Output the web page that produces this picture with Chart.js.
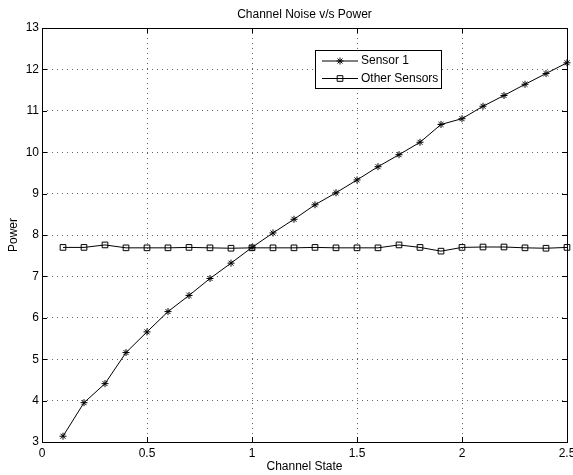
<!DOCTYPE html>
<html>
<head>
<meta charset="utf-8">
<script src="https://cdn.jsdelivr.net/npm/chart.js@4/dist/chart.umd.min.js"></script>
<style>html,body{margin:0;padding:0;background:#fff}</style>
</head>
<body>
<canvas id="chart" width="573" height="475"></canvas>
<script>
const channelState = [0.1, 0.2, 0.3, 0.4, 0.5, 0.6, 0.7, 0.8, 0.9, 1.0, 1.1, 1.2, 1.3,
  1.4, 1.5, 1.6, 1.7, 1.8, 1.9, 2.0, 2.1, 2.2, 2.3, 2.4, 2.5];
const sensor1 = [3.14, 3.95, 4.41, 5.16, 5.66, 6.15, 6.54, 6.95, 7.32, 7.70, 8.05, 8.38, 8.73,
  9.02, 9.33, 9.65, 9.94, 10.24, 10.67, 10.81, 11.11, 11.37, 11.64, 11.90, 12.16];
const otherSensors = [7.70, 7.70, 7.76, 7.69, 7.69, 7.69, 7.70, 7.69, 7.68, 7.69, 7.69, 7.69, 7.70,
  7.69, 7.69, 7.69, 7.76, 7.70, 7.61, 7.70, 7.71, 7.71, 7.69, 7.68, 7.70];
const xTicks = [0, 0.5, 1, 1.5, 2, 2.5];
const yTicks = [3, 4, 5, 6, 7, 8, 9, 10, 11, 12, 13];

const FONT = "'Liberation Sans', Arial, Helvetica, sans-serif";
Chart.defaults.font.family = FONT;
Chart.defaults.font.size = 12;
Chart.defaults.color = '#000';

const toPoints = ys => channelState.map((x, i) => ({ x: x, y: ys[i] }));

// MATLAB-like box, inward ticks and legend inside the axes
const matlabBox = {
  id: 'matlabBox',
  afterDatasetsDraw(chart) {
    const { ctx, chartArea: a, scales } = chart;
    ctx.save();
    ctx.strokeStyle = '#000';
    ctx.lineWidth = 1;
    ctx.setLineDash([]);
    ctx.beginPath();
    xTicks.forEach(v => {
      const px = Math.round(scales.x.getPixelForValue(v)) + 0.5;
      ctx.moveTo(px, a.bottom); ctx.lineTo(px, a.bottom - 5);
      ctx.moveTo(px, a.top); ctx.lineTo(px, a.top + 5);
    });
    yTicks.forEach(v => {
      const py = Math.round(scales.y.getPixelForValue(v)) + 0.5;
      ctx.moveTo(a.left, py); ctx.lineTo(a.left + 5, py);
      ctx.moveTo(a.right, py); ctx.lineTo(a.right - 5, py);
    });
    ctx.stroke();
    ctx.strokeRect(Math.round(a.left) + 0.5, Math.round(a.top) + 0.5,
      Math.round(a.right - a.left), Math.round(a.bottom - a.top));

    // legend
    const bx = a.right - 252, by = a.top + 22, bw = 126, bh = 38;
    ctx.fillStyle = '#fff';
    ctx.fillRect(bx, by, bw, bh);
    ctx.strokeRect(bx + 0.5, by + 0.5, bw, bh);
    ctx.font = '12px ' + FONT;
    ctx.textBaseline = 'middle';
    ctx.textAlign = 'left';
    chart.data.datasets.forEach((ds, i) => {
      const ry = by + 11 + i * 17.5;
      ctx.strokeStyle = ds.borderColor;
      ctx.lineWidth = ds.borderWidth;
      ctx.beginPath();
      ctx.moveTo(bx + 7, ry); ctx.lineTo(bx + 43, ry);
      ctx.stroke();
      ctx.fillStyle = 'rgba(0,0,0,0)';
      Chart.helpers.drawPoint(ctx, {
        pointStyle: ds.pointStyle, radius: ds.pointRadius, borderWidth: ds.pointBorderWidth, rotation: 0
      }, bx + 25, ry);
      ctx.fillStyle = '#000';
      ctx.fillText(ds.label, bx + 46, ry);
    });
    ctx.restore();
  }
};

new Chart(document.getElementById('chart'), {
  type: 'line',
  data: {
    datasets: [
      {
        label: 'Sensor 1',
        data: toPoints(sensor1),
        borderColor: '#000',
        borderWidth: 1,
        pointStyle: 'star',
        pointRadius: 3.5,
        pointBorderWidth: 1,
        pointBorderColor: '#000',
        pointBackgroundColor: 'rgba(0,0,0,0)',
        tension: 0,
        clip: false
      },
      {
        label: 'Other Sensors',
        data: toPoints(otherSensors),
        borderColor: '#000',
        borderWidth: 1,
        pointStyle: 'rect',
        pointRadius: 4,
        pointBorderWidth: 1,
        pointBorderColor: '#000',
        pointBackgroundColor: 'rgba(0,0,0,0)',
        tension: 0,
        clip: false
      }
    ]
  },
  options: {
    responsive: false,
    animation: false,
    layout: { padding: { left: 0, right: 6, top: 0, bottom: 0 } },
    plugins: {
      legend: { display: false },
      tooltip: { enabled: false },
      title: {
        display: true,
        text: 'Channel Noise v/s Power',
        fullSize: false,
        font: { size: 12, weight: 'normal' },
        color: '#000',
        padding: { top: 7, bottom: 6.6 }
      }
    },
    scales: {
      x: {
        type: 'linear',
        min: 0,
        max: 2.5,
        afterBuildTicks: s => { s.ticks = xTicks.map(v => ({ value: v })); },
        afterFit: s => { s.height = 33; s.paddingLeft = 0; s.paddingRight = 0; },
        ticks: { padding: 4, color: '#000', font: { size: 12 }, callback: v => String(v) },
        grid: { color: 'rgba(0,0,0,0.6)', drawTicks: false, lineWidth: 1 },
        border: { display: false, dash: [1, 4] },
        title: { display: true, text: 'Channel State', color: '#000', font: { size: 12 }, padding: { top: 0, bottom: 1 } }
      },
      y: {
        type: 'linear',
        min: 3,
        max: 13,
        afterBuildTicks: s => { s.ticks = yTicks.map(v => ({ value: v })); },
        afterFit: s => { s.width = 42; s.paddingTop = 0; s.paddingBottom = 0; },
        ticks: { padding: 3, color: '#000', font: { size: 12 }, callback: v => String(v) },
        grid: { color: 'rgba(0,0,0,0.6)', drawTicks: false, lineWidth: 1 },
        border: { display: false, dash: [1, 4] },
        title: { display: true, text: 'Power', color: '#000', font: { size: 12 }, padding: { top: 6, bottom: 0 } }
      }
    }
  },
  plugins: [matlabBox]
});
</script>
</body>
</html>
